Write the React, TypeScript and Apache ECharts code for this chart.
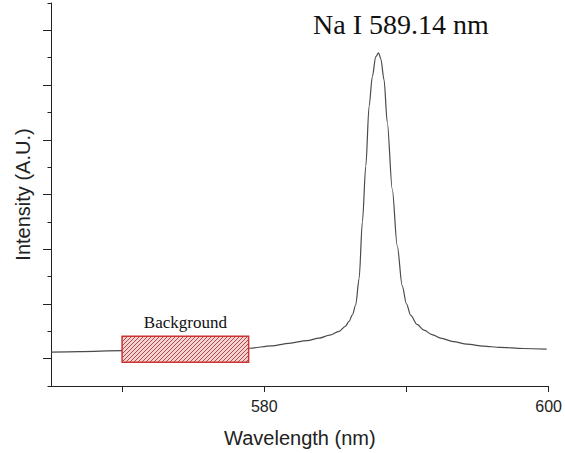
import { useEffect, useRef } from 'react';
import * as echarts from 'echarts';

const wavelength = [
  565.0, 567.0, 570.0, 572.0, 575.0, 578.0, 579.0, 580.5, 581.75, 583.0, 583.86, 584.6,
  585.26, 585.7, 585.96, 586.2, 586.43, 586.67, 586.9, 587.14, 587.37, 587.6, 587.84,
  588.04, 588.2, 588.42, 588.65, 589.0, 589.35, 589.7, 590.0, 590.3, 590.75, 591.23,
  591.8, 592.4, 593.3, 594.25, 595.4, 596.6, 598.2, 599.86,
];
const intensity = [
  1.24, 1.26, 1.29, 1.31, 1.34, 1.37, 1.38, 1.47, 1.56, 1.66, 1.75, 1.86,
  2.0, 2.18, 2.36, 2.6, 2.96, 3.93, 6.0, 8.04, 10.22, 11.31, 12.04,
  12.18, 11.95, 11.2, 9.64, 7.2, 5.13, 3.67, 3.0, 2.58, 2.25, 2.04,
  1.88, 1.75, 1.62, 1.53, 1.46, 1.41, 1.37, 1.35,
];
const xTickValues = [570, 580, 590, 600];
const xLabelValues = [580, 600];
// [x0, y0, x1, y1] of the background window
const backgroundRange = [570.0, 0.87, 578.9, 1.82];
const backgroundLabel = 'Background';
const titleText = 'Na I 589.14 nm';
const xName = 'Wavelength (nm)';
const yName = 'Intensity (A.U.)';

function makeHatch() {
  const c = document.createElement('canvas');
  c.width = 4;
  c.height = 4;
  const ctx = c.getContext('2d')!;
  ctx.fillStyle = '#f3d2d2';
  ctx.fillRect(0, 0, 4, 4);
  ctx.strokeStyle = '#b94848';
  ctx.lineWidth = 1;
  ctx.beginPath();
  ctx.moveTo(0, 4);
  ctx.lineTo(4, 0);
  ctx.moveTo(-1, 1);
  ctx.lineTo(1, -1);
  ctx.moveTo(3, 5);
  ctx.lineTo(5, 3);
  ctx.stroke();
  return c;
}

export default function App() {
  const ref = useRef<HTMLDivElement>(null);
  useEffect(() => {
    if (!ref.current) return;
    const chart = echarts.init(ref.current, undefined, { renderer: 'svg' });
    const hatch = makeHatch();
    const pattern: any = { image: hatch, repeat: 'repeat', imageWidth: 4, imageHeight: 4 };
    const axisColor = '#222';
    chart.setOption({
      animation: false,
      title: {
        text: titleText,
        left: 313,
        top: 10,
        padding: 0,
        textStyle: {
          fontFamily: '"Liberation Serif", "Times New Roman", serif',
          fontSize: 28,
          fontWeight: 'normal',
          color: '#111',
        },
      },
      grid: { left: 51, right: 15, top: 3, bottom: 65 },
      xAxis: {
        type: 'value',
        min: 565,
        max: 600,
        name: xName,
        nameLocation: 'middle',
        nameGap: 42,
        nameTextStyle: { fontFamily: '"Liberation Sans", Arial, sans-serif', fontSize: 20, color: '#222' },
        splitLine: { show: false },
        axisLine: { show: true, lineStyle: { color: axisColor, width: 1 } },
        axisTick: { show: true, length: 6, customValues: xTickValues, lineStyle: { color: axisColor } },
        axisLabel: {
          customValues: xLabelValues,
          margin: 12,
          fontFamily: '"Liberation Sans", Arial, sans-serif',
          fontSize: 16,
          color: '#222',
        },
      },
      yAxis: {
        type: 'value',
        min: 0,
        max: 14,
        interval: 2,
        name: yName,
        nameLocation: 'middle',
        nameGap: 18,
        nameTextStyle: { fontFamily: '"Liberation Sans", Arial, sans-serif', fontSize: 20, color: '#222' },
        splitLine: { show: false },
        axisLine: { show: true, lineStyle: { color: axisColor, width: 1 } },
        axisTick: { show: true, length: 3.5, lineStyle: { color: axisColor } },
        minorTick: { show: true, splitNumber: 2, length: 8, lineStyle: { color: axisColor, width: 1 } },
        axisLabel: { show: false },
      },
      series: [
        {
          type: 'line',
          data: wavelength.map((w, i) => [w, intensity[i]]),
          showSymbol: false,
          smooth: 0.3,
          smoothMonotone: 'x',
          lineStyle: { color: '#4a4a4a', width: 1.2 },
          z: 2,
        },
        {
          type: 'custom',
          z: 5,
          data: [backgroundRange],
          renderItem: (params: any, api: any) => {
            const p0 = api.coord([api.value(0), api.value(3)]);
            const p1 = api.coord([api.value(2), api.value(1)]);
            return {
              type: 'group',
              children: [
                {
                  type: 'rect',
                  shape: { x: p0[0], y: p0[1], width: p1[0] - p0[0], height: p1[1] - p0[1] },
                  style: { fill: pattern, stroke: '#cc3333', lineWidth: 1.5 },
                },
                {
                  type: 'text',
                  x: (p0[0] + p1[0]) / 2,
                  y: p0[1] - 13.7,
                  style: {
                    text: backgroundLabel,
                    font: '17px "Liberation Serif", "Times New Roman", serif',
                    fill: '#111',
                    align: 'center',
                    verticalAlign: 'middle',
                  },
                },
              ],
            };
          },
        },
      ],
    });
    return () => chart.dispose();
  }, []);
  return <div ref={ref} style={{ width: 565, height: 453, position: 'absolute', left: 0, top: 0 }} />;
}
